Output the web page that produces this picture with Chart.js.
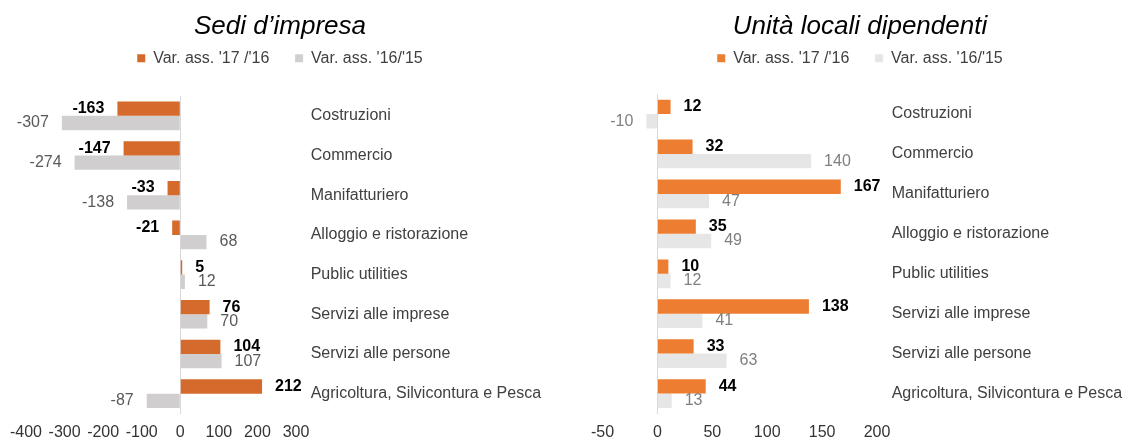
<!DOCTYPE html>
<html>
<head>
<meta charset="utf-8">
<script src="https://cdn.jsdelivr.net/npm/chart.js@4.4.0/dist/chart.umd.min.js"></script>
<style>
  body { margin: 0; background: #fff; width: 1132px; height: 441px; overflow: hidden; position: relative; }
  canvas { position: absolute; top: 0; }
  #sedi { left: 0; }
  #unita { left: 588px; }
</style>
</head>
<body>
<canvas id="sedi" width="560" height="441"></canvas>
<canvas id="unita" width="544" height="441"></canvas>
<script>
const categories = [
  "Costruzioni",
  "Commercio",
  "Manifatturiero",
  "Alloggio e ristorazione",
  "Public utilities",
  "Servizi alle imprese",
  "Servizi alle persone",
  "Agricoltura, Silvicontura e Pesca",
];
const seriesLabels = ["Var. ass. '17 /'16", "Var. ass. '16/'15"];

// Sedi d'impresa
const sedi1716 = [-163, -147, -33, -21, 5, 76, 104, 212];
const sedi1615 = [-307, -274, -138, 68, 12, 70, 107, -87];
const sediTicks = [-400, -300, -200, -100, 0, 100, 200, 300];

// Unita locali dipendenti
const unita1716 = [12, 32, 167, 35, 10, 138, 33, 44];
const unita1615 = [-10, 140, 47, 49, 12, 41, 63, 13];
const unitaTicks = [-50, 0, 50, 100, 150, 200];

const FONT = "'Liberation Sans', Arial, sans-serif";

// value labels at the end of each bar
const valueLabels = {
  id: "valueLabels",
  afterDatasetsDraw(chart, args, opts) {
    const ctx = chart.ctx;
    ctx.save();
    ctx.textBaseline = "middle";
    chart.data.datasets.forEach((ds, i) => {
      const meta = chart.getDatasetMeta(i);
      ctx.font = opts.fonts[i];
      ctx.fillStyle = opts.colors[i];
      meta.data.forEach((bar, j) => {
        const v = ds.data[j];
        if (v < 0) {
          ctx.textAlign = "right";
          ctx.fillText(String(v), bar.x - opts.gap, bar.y);
        } else {
          ctx.textAlign = "left";
          ctx.fillText(String(v), bar.x + opts.gap, bar.y);
        }
      });
    });
    ctx.restore();
  },
};

function makeChart(id, title, values1, values2, ticks, cfg) {
  const ctx = document.getElementById(id).getContext("2d");
  return new Chart(ctx, {
    type: "bar",
    data: {
      labels: categories,
      datasets: [
        { label: seriesLabels[0], data: values1, backgroundColor: cfg.orange, xAxisID: "x", yAxisID: "y" },
        { label: seriesLabels[1], data: values2, backgroundColor: cfg.gray, xAxisID: "x", yAxisID: "y" },
      ],
    },
    options: {
      indexAxis: "y",
      responsive: false,
      animation: false,
      events: [],
      barPercentage: 1,
      categoryPercentage: 0.72,
      layout: { padding: 0 },
      scales: {
        x: {
          min: ticks[0],
          max: ticks[ticks.length - 1],
          ticks: {
            stepSize: ticks[1] - ticks[0],
            padding: 2,
            color: "#333",
            font: { family: FONT, size: 16, lineHeight: 2.1 },
          },
          grid: {
            drawTicks: false,
            tickLength: 0,
            color: (c) => (c.tick && c.tick.value === 0 ? "#d9d9d9" : "rgba(0,0,0,0)"),
          },
          border: { display: false },
          afterFit: (scale) => {
            scale.height = 27.5;
          },
        },
        y: {
          position: "right",
          grid: { display: false, drawTicks: false, tickLength: 0 },
          border: { display: false },
          ticks: {
            padding: cfg.labelGap,
            crossAlign: "near",
            color: "#404040",
            font: { family: FONT, size: 16 },
          },
          afterFit: (scale) => {
            scale.width = cfg.yWidth;
          },
        },
        // empty axis on the left, only keeps room before the plot
        yPad: {
          axis: "y",
          type: "category",
          position: "left",
          grid: { display: false, drawTicks: false, tickLength: 0 },
          border: { display: false },
          ticks: { display: false },
          afterFit: (scale) => {
            scale.width = cfg.leftWidth;
          },
        },
      },
      plugins: {
        tooltip: { enabled: false },
        title: {
          display: true,
          text: title,
          color: "#000",
          font: { family: FONT, size: 26, style: "italic", weight: "normal", lineHeight: 1.2 },
          padding: { top: 11, bottom: 0 },
        },
        legend: {
          display: true,
          labels: {
            boxWidth: 8,
            boxHeight: 8,
            padding: 8,
            color: "#404040",
            font: { family: FONT, size: 16 },
            generateLabels: (chart) => {
              const items = Chart.defaults.plugins.legend.labels.generateLabels(chart);
              items[0].text = items[0].text + "    ";
              items.forEach((it) => { it.lineWidth = 0; });
              return items;
            },
          },
        },
        // empty spacer between legend and plot
        subtitle: {
          display: true,
          text: "",
          weight: 500,
          font: { size: 10, lineHeight: 1 },
          padding: { top: 0, bottom: cfg.spacer },
        },
        valueLabels: {
          gap: 13,
          fonts: ["bold 16px " + FONT, "16px " + FONT],
          colors: ["#000", cfg.grayText],
        },
      },
    },
    plugins: [valueLabels],
  });
}

makeChart("sedi", "Sedi d\u2019impresa", sedi1716, sedi1615, sediTicks, {
  orange: "#D46A2B",
  gray: "#D0CECE",
  grayText: "#595959",
  leftWidth: 26,
  yWidth: 264,
  labelGap: 14.7,
  spacer: 9.8,
});

makeChart("unita", "Unit\u00e0 locali dipendenti", unita1716, unita1615, unitaTicks, {
  orange: "#ED7D31",
  gray: "#E7E6E6",
  grayText: "#7F7F7F",
  leftWidth: 14.5,
  yWidth: 255,
  labelGap: 14.7,
  spacer: 7.9,
});
</script>
</body>
</html>
